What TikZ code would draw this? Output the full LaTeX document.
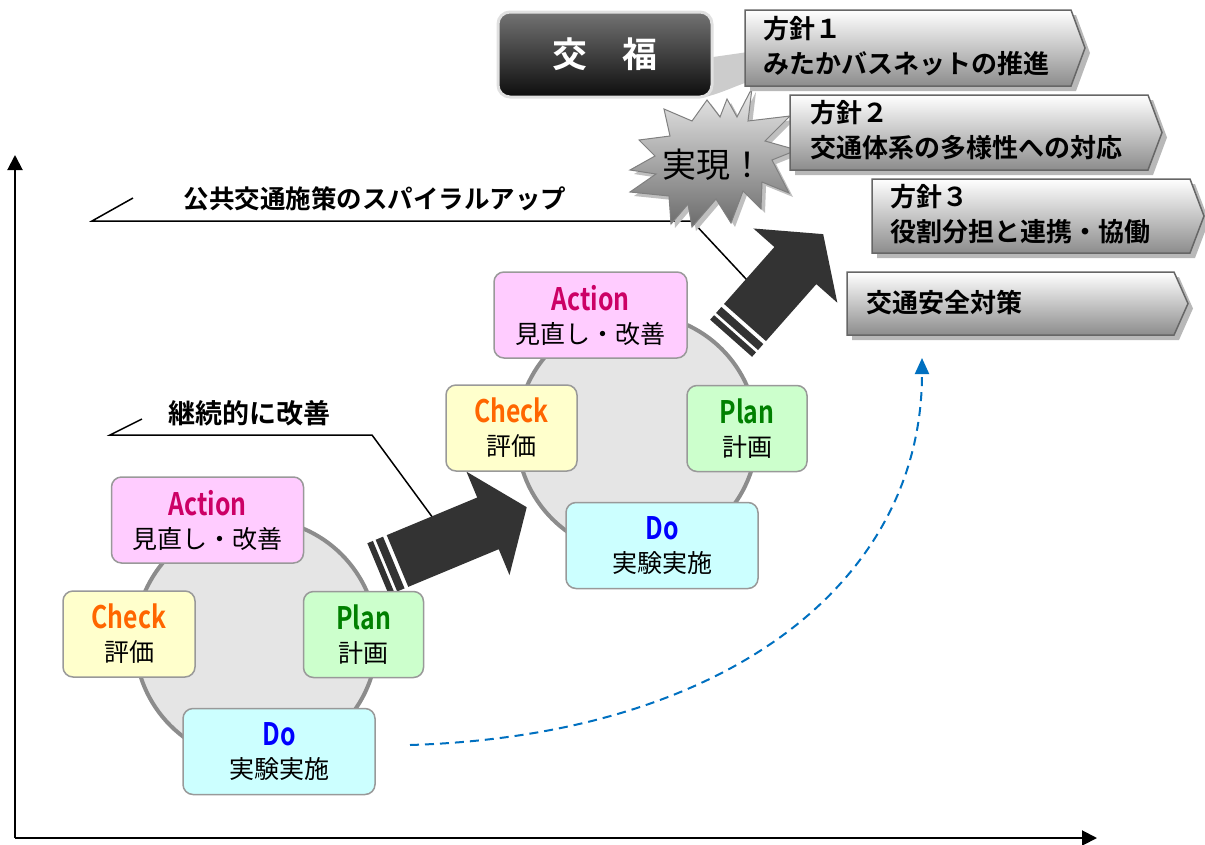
\documentclass[tikz,border=0pt]{standalone}
\usepackage{fontspec}
\setmainfont{Noto Sans CJK JP}[BoldFont={Noto Sans CJK JP Bold}]
\newfontfamily\stagefont{Noto Sans CJK JP Bold}[FakeStretch=0.8]
\usetikzlibrary{arrows.meta}

\definecolor{actcol}{HTML}{CC0066}
\definecolor{chkcol}{HTML}{FF6600}
\definecolor{plncol}{HTML}{008000}
\definecolor{docol}{HTML}{0000FF}
\definecolor{actfill}{HTML}{FFCCFF}
\definecolor{chkfill}{HTML}{FFFFCC}
\definecolor{plnfill}{HTML}{CCFFCC}
\definecolor{dofill}{HTML}{CCFFFF}
\definecolor{trendcol}{HTML}{0070C0}

\tikzset{
  axis/.style={line width=2pt,-{Triangle[length=15pt,width=15pt]}},
  leader/.style={line width=1.5pt},
  headline/.style={font=\bfseries\fontsize{26}{30}\selectfont,inner sep=0pt},
  cyclebg/.style={fill=black!10,draw=black!45,line width=4pt},
  stage/.style={draw=black!40,line width=1.5pt,rounded corners=10pt,minimum height=86pt,
    inner sep=0pt,align=center,font=\fontsize{25}{33}\selectfont},
  bigarrow/.style={fill=black!80},
  trend/.style={draw=trendcol,line width=2pt,dash pattern=on 9pt off 6pt,
    -{Triangle[length=16pt,width=14pt,fill=trendcol]}},
  policy/.style={top color=white,bottom color=black!45,draw=black!60,line width=1.5pt},
  policytext/.style={anchor=west,align=left,inner sep=0pt,font=\bfseries\fontsize{26}{35}\selectfont},
}

\newcommand{\stagelabel}[3]{{\stagefont\fontsize{31}{33}\selectfont\color{#1}#2}\\#3}

% striped arrow: start, angle, shaft length
\newcommand{\stripedarrow}[3]{%
  \begin{scope}[shift={#1},rotate=#2]
    \fill[bigarrow] (0,-28) -- (#3,-28) -- (#3,-56) -- ({#3+42},0) -- (#3,56) -- (#3,28) -- (0,28) -- cycle;
    \fill[bigarrow] (-4,-28) rectangle (-12,28);
    \fill[bigarrow] (-15,-28) rectangle (-21,28);
  \end{scope}}

% policy box: left, top, tip, bottom
\newcommand{\policybox}[4]{%
  \fill[black!28] ({#1+5},{#2+5}) -- ({#3-9},{#2+5}) -- ({#3+5},{(#2+#4)/2+5}) -- ({#3-9},{#4+5}) -- ({#1+5},{#4+5}) -- cycle;
  \draw[policy] (#1,#2) -- ({#3-14},#2) -- (#3,{(#2+#4)/2}) -- ({#3-14},#4) -- (#1,#4) -- cycle;}

\begin{document}
\begin{tikzpicture}[x=1pt,y=-1pt]
  \useasboundingbox (0,0) rectangle (1205,844);

  % leaders
  \node[headline,font=\bfseries\fontsize{25.5}{30}\selectfont] (spiral) at (375,199) {公共交通施策のスパイラルアップ};
  \coordinate (sp1) at (133,198);
  \coordinate (sp2) at (92,221);
  \coordinate (sp3) at (692,221);
  \coordinate (sp4) at (747,280);
  \draw[leader] (sp1) -- (sp2) -- (sp3) -- (sp4);

  \node[headline,font=\bfseries\fontsize{27}{30}\selectfont] (kaizen) at (249,413) {継続的に改善};
  \coordinate (kz1) at (142,419);
  \coordinate (kz2) at (110,435);
  \coordinate (kz3) at (372,435);
  \coordinate (kz4) at (433,518);
  \draw[leader] (kz1) -- (kz2) -- (kz3) -- (kz4);

  % axes
  \coordinate (org) at (15,838);
  \coordinate (ytip) at (15,155);
  \coordinate (xtip) at (1097,838);
  \draw[axis] (org) -- (ytip);
  \draw[axis] (org) -- (xtip);

  % trend
  \coordinate (tr1) at (410,745);
  \coordinate (tr2) at (922,358);
  \draw[trend] (tr1) .. controls (730,735) and (922,580) .. (tr2);

  % cycles
  \draw[cyclebg] (256,640) circle[radius=121];
  \draw[cyclebg] (637,434) circle[radius=120];

  \stripedarrow{(397.5,561)}{22.6}{98}
  \stripedarrow{(745,322.5)}{48.5}{76}

  \node[stage,fill=actfill,minimum width=192pt] (actA) at (207.5,520) {\stagelabel{actcol}{Action}{見直し・改善}};
  \node[stage,fill=chkfill,minimum width=132pt] (chkA) at (129,634) {\stagelabel{chkcol}{Check}{評価}};
  \node[stage,fill=plnfill,minimum width=120pt] (plnA) at (363.5,634.5) {\stagelabel{plncol}{Plan}{計画}};
  \node[stage,fill=dofill,minimum width=192pt] (doA) at (279,751.5) {\stagelabel{docol}{Do}{実験実施}};

  \node[stage,fill=actfill,minimum width=193pt] (actB) at (590.5,315) {\stagelabel{actcol}{Action}{見直し・改善}};
  \node[stage,fill=chkfill,minimum width=131pt] (chkB) at (511.5,428) {\stagelabel{chkcol}{Check}{評価}};
  \node[stage,fill=plnfill,minimum width=120pt] (plnB) at (747,428.5) {\stagelabel{plncol}{Plan}{計画}};
  \node[stage,fill=dofill,minimum width=192pt] (doB) at (662,545.5) {\stagelabel{docol}{Do}{実験実施}};

  % burst
  \fill[black!25,shift={(4,4)}] (752,88) -- (748,121) -- (790,116) -- (765,141) -- (797,150) -- (772,160)
    -- (789,193) -- (762,182) -- (761,209) -- (743,191) -- (731,223) -- (716,199) -- (692,227)
    -- (688,204) -- (671,224) -- (669,196) -- (630,192) -- (656,174) -- (630,170) -- (655,156)
    -- (639,140) -- (670,136) -- (664,109) -- (692,121) -- (707,100) -- (720,117) -- (727,99)
    -- (737,117) -- cycle;
  \shade[top color=black!8,bottom color=black!58,draw=black!50,line width=1pt] (752,88) -- (748,121) -- (790,116) -- (765,141) -- (797,150) -- (772,160)
    -- (789,193) -- (762,182) -- (761,209) -- (743,191) -- (731,223) -- (716,199) -- (692,227)
    -- (688,204) -- (671,224) -- (669,196) -- (630,192) -- (656,174) -- (630,170) -- (655,156)
    -- (639,140) -- (670,136) -- (664,109) -- (692,121) -- (707,100) -- (720,117) -- (727,99)
    -- (737,117) -- cycle;
  \node[inner sep=0pt,font=\fontsize{34}{34}\selectfont] (jitsugen) at (713,165) {実現！};

  % kofuku
  \fill[black!20] (706,58) -- (748,52) -- (748,82) .. controls (735,86) and (722,93) .. (705,97) -- cycle;
  \node[draw=black!12,line width=3pt,rounded corners=12pt,top color=black!55,bottom color=black!95,
    minimum width=214pt,minimum height=85pt,text=white,font=\bfseries\fontsize{35}{35}\selectfont]
    (kofuku) at (605,54.5) {交　福};

  % policies
  \policybox{745}{10}{1085}{86}
  \node[policytext] (pol1) at (763,46) {方針１\\みたかバスネットの推進};
  \policybox{790}{95}{1162}{170}
  \node[policytext] (pol2) at (810,130) {方針２\\交通体系の多様性への対応};
  \policybox{872}{179}{1204}{253}
  \node[policytext] (pol3) at (890,214) {方針３\\役割分担と連携・協働};
  \policybox{847}{272}{1188}{335}
  \node[policytext] (pol4) at (866,303) {交通安全対策};
\end{tikzpicture}
\end{document}
